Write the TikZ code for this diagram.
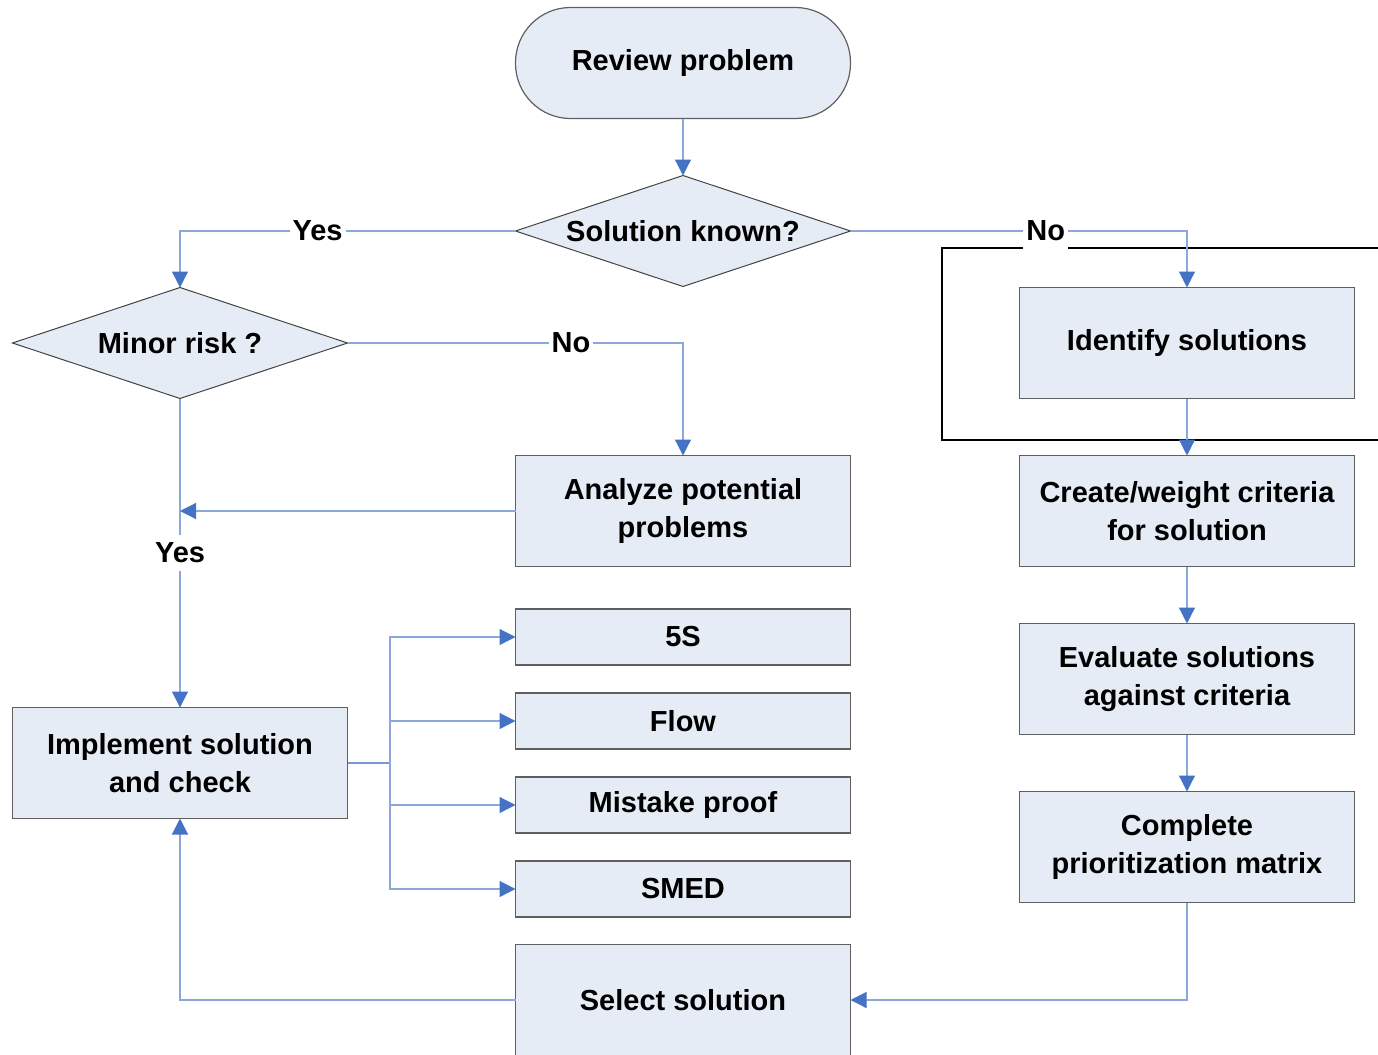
\documentclass[tikz,border=0pt]{standalone}
\usepackage{fontspec}
\setmainfont{Liberation Sans}
\usepackage{tikz}
\usetikzlibrary{arrows.meta, shapes.geometric}
\definecolor{boxfill}{RGB}{230,236,246}
\definecolor{boxline}{RGB}{95,95,95}
\definecolor{lineblue}{RGB}{140,168,218}
\definecolor{tipblue}{RGB}{68,114,196}

\begin{document}
\begin{tikzpicture}[
  x=0.5pt, y=-0.5pt,
  every node/.style={font=\bfseries\fontsize{14.5}{19}\selectfont, align=center},
  box/.style={
    rectangle, draw=boxline, fill=boxfill, line width=0.6pt,
    minimum width=167.5pt, minimum height=55.5pt, outer sep=0pt
  },
  tool/.style={box, minimum height=28pt},
  term/.style={box, rounded corners=27.5pt},
  decide/.style={
    diamond, draw=boxline!70!black, fill=boxfill, line width=0.5pt,
    aspect=3.02, inner sep=0pt,
    minimum width=167.5pt, minimum height=55.5pt, outer sep=0pt
  },
  flow/.style={
    draw=lineblue, line width=0.6pt,
    -{Triangle[length=8pt, width=8pt, color=tipblue]}
  },
  lbl/.style={fill=white, inner xsep=1.5pt, inner ysep=4pt}
]
  \useasboundingbox (0,0) rectangle (1378,1055);

  \draw[line width=1pt] (1380,248) -- (942,248) -- (942,440) -- (1380,440);

  \node[term] (rev) at (683,63) {Review problem};
  \node[decide] (known) at (683,231) {Solution known?};
  \node[decide] (minor) at (180,343) {Minor risk ?};
  \node[box] (analyze) at (683,511) {Analyze potential\\problems};
  \node[box] (ident) at (1187,343) {Identify solutions};
  \node[box] (crit) at (1187,511) {Create/weight criteria\\for solution};
  \node[box] (eval) at (1187,679) {Evaluate solutions\\against criteria};
  \node[box] (matrix) at (1187,847) {Complete\\prioritization matrix};
  \node[box] (impl) at (180,763) {Implement solution\\and check};
  \node[box] (select) at (683,1000) {Select solution};
  \foreach \y/\n/\t in {637/s5/5S, 721/flow/Flow, 805/mistake/Mistake proof, 889/smed/SMED} {
    \node[tool] (\n) at (683,\y) {\t};
  }

  \draw[flow] (rev) -- (known);
  \draw[flow] (known.west) -| node[lbl, pos=0.295]{Yes} (minor.north);
  \draw[flow] (known.east) -| node[lbl, pos=0.29]{No} (ident.north);
  \draw[flow] (minor.east) -| node[lbl, pos=0.333]{No} (analyze.north);
  \draw[flow] (minor.south) -- node[lbl, midway]{Yes} (impl.north);
  \draw[flow] (analyze.west) -- (analyze.west -| minor.south);
  \draw[flow] (ident) -- (crit);
  \draw[flow] (crit) -- (eval);
  \draw[flow] (eval) -- (matrix);
  \draw[flow] (matrix.south) |- (select.east);
  \draw[flow] (select.west) -| (impl.south);

  \coordinate (fork) at (390,763);
  \draw[lineblue!70!tipblue, line width=1pt] (impl.east) -- (fork);
  \foreach \n in {s5, flow, mistake, smed} {
    \draw[flow] (fork) |- (\n.west);
  }
\end{tikzpicture}
\end{document}
